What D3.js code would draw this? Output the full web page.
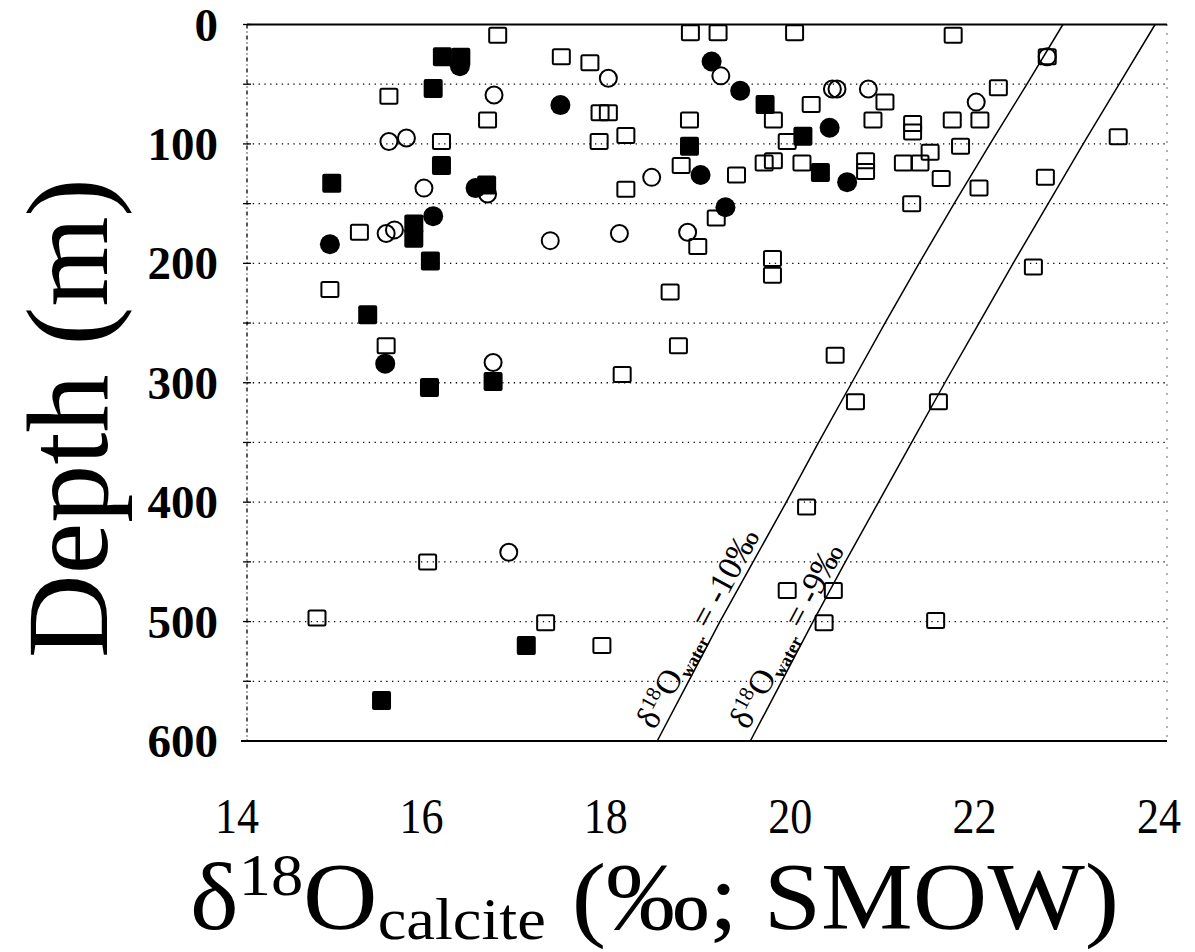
<!DOCTYPE html>
<html>
<head>
<meta charset="utf-8">
<script src="https://cdn.jsdelivr.net/npm/d3@7"></script>
<style>
  body { margin: 0; background: #fff; }
  svg text { font-family: "Liberation Serif", "Times New Roman", "DejaVu Serif", serif; fill: #000; }
</style>
</head>
<body>
<div id="chart"></div>
<script>
// data: [d18O calcite, depth m]
var openSquares = [
    [16.73, 9], [15.55, 60], [16.62, 80], [16.12, 98], [15.23, 174], [14.91, 222],
    [15.52, 269], [15.97, 450], [14.77, 497], [17.25, 501],
    [18.82, 7], [19.12, 7], [19.95, 7], [17.42, 27], [17.73, 32], [17.84, 74], [17.93, 74],
    [20.13, 67], [19.72, 80], [18.81, 80], [19.87, 98], [17.83, 98], [18.12, 93], [18.72, 118],
    [19.32, 126], [18.12, 138], [19.62, 116], [19.72, 114], [20.03, 116], [19.10, 162],
    [18.90, 186], [19.71, 196], [19.71, 210], [18.60, 224],
    [20.80, 80], [20.93, 65], [20.72, 114], [20.72, 123], [21.67, 9], [22.69, 27], [22.16, 53],
    [21.96, 80], [21.66, 80], [21.23, 83], [21.23, 90], [21.42, 107], [21.75, 102], [21.13, 116],
    [21.31, 116], [21.54, 129], [21.95, 137], [22.67, 128], [21.22, 150], [23.46, 94], [22.54, 203],
    [18.69, 269], [18.08, 293], [20.39, 277], [20.61, 316], [21.51, 316], [20.08, 404],
    [19.87, 474], [20.37, 474], [20.27, 501], [17.86, 520], [21.48, 499]
];
var openCircles = [
    [16.69, 59], [15.55, 98], [15.74, 95], [15.93, 137], [16.62, 142], [15.52, 175], [15.61, 172],
    [17.30, 181], [16.68, 283], [16.85, 442], [17.93, 45], [19.15, 43], [20.36, 54], [20.41, 54],
    [20.75, 54], [18.40, 128], [18.05, 175], [18.79, 174], [21.92, 65], [22.69, 27]
];
var filledSquares = [
    [16.13, 27], [16.33, 27.5], [16.03, 53.5], [16.12, 118], [14.93, 133], [16.61, 134.5],
    [15.82, 167], [15.82, 179], [16.00, 198], [15.32, 243], [15.99, 304], [16.68, 299],
    [17.04, 520], [15.47, 566], [19.63, 67], [20.04, 93.5], [18.81, 102], [20.23, 124]
];
var filledCircles = [
    [16.32, 35], [16.49, 137], [16.03, 160.5], [14.91, 184], [15.51, 284], [17.41, 67.5],
    [19.05, 31], [19.36, 55.5], [20.33, 86.5], [18.93, 126], [20.52, 132], [19.20, 153]
];

// d18O water isolines
var lineDepths = [0, 50, 100, 150, 200, 250, 300, 350, 400, 450, 500, 550, 600];
var waterMinus10 = [22.86, 22.47, 22.07, 21.68, 21.30, 20.93, 20.57, 20.21, 19.86, 19.50, 19.14, 18.80, 18.46];
var waterMinus9 = [23.86, 23.47, 23.08, 22.70, 22.32, 21.95, 21.58, 21.22, 20.86, 20.50, 20.15, 19.81, 19.47];

var xTicks = [14, 16, 18, 20, 22, 24];
var yTicks = [0, 100, 200, 300, 400, 500, 600];
var gridDepths = [50, 100, 150, 200, 250, 300, 350, 400, 450, 500, 550];

var width = 1195, height = 952;
var margin = { top: 24.5, right: 28, bottom: 211, left: 246 };

var x = d3.scaleLinear().domain([14, 24]).range([margin.left, 1168]);
var y = d3.scaleLinear().domain([0, 600]).range([margin.top, height - margin.bottom]);

var svg = d3.select("#chart").append("svg")
    .attr("width", width)
    .attr("height", height);

var x0 = 247, x1 = 1167;

// dotted horizontal grid
svg.append("g").selectAll("line")
    .data(gridDepths)
    .enter().append("line")
    .attr("x1", x0).attr("x2", x1)
    .attr("y1", d => y(d)).attr("y2", d => y(d))
    .attr("stroke", "#000")
    .attr("stroke-width", 1.3)
    .attr("stroke-dasharray", "1.3,4.5");

// frame: solid top/bottom, dotted sides
svg.append("line").attr("x1", x0).attr("x2", x1).attr("y1", y(0)).attr("y2", y(0))
    .attr("stroke", "#000").attr("stroke-width", 2.2);
svg.append("line").attr("x1", x0 - 6).attr("x2", x1).attr("y1", y(600)).attr("y2", y(600))
    .attr("stroke", "#000").attr("stroke-width", 2.2);
svg.append("line").attr("x1", x0).attr("x2", x0).attr("y1", y(0)).attr("y2", y(600))
    .attr("stroke", "#000").attr("stroke-width", 1.3).attr("stroke-dasharray", "4,3,1,3");
svg.append("line").attr("x1", x1).attr("x2", x1).attr("y1", y(0)).attr("y2", y(600))
    .attr("stroke", "#000").attr("stroke-width", 1.2).attr("stroke-dasharray", "1,8");

// small ticks on left axis
svg.append("g").selectAll("line")
    .data(gridDepths.concat([0, 600]))
    .enter().append("line")
    .attr("x1", x0 - 4).attr("x2", x0 + 4)
    .attr("y1", d => y(d)).attr("y2", d => y(d))
    .attr("stroke", "#000").attr("stroke-width", 1.3);

// y tick labels
svg.append("g").selectAll("text")
    .data(yTicks)
    .enter().append("text")
    .attr("x", 218)
    .attr("y", d => y(d) + 16)
    .attr("text-anchor", "end")
    .style("font-size", "47px")
    .style("font-weight", "bold")
    .text(d => d);

// x tick labels
svg.append("g").selectAll("text")
    .data(xTicks)
    .enter().append("text")
    .attr("x", d => x(d) - 9)
    .attr("y", 833)
    .attr("text-anchor", "middle")
    .attr("transform", d => "translate(" + (x(d) - 9) + ",0) scale(0.88,1) translate(" + -(x(d) - 9) + ",0)")
    .style("font-size", "50px")
    .text(d => d);

// axis titles
svg.append("text")
    .attr("transform", "translate(107,418) rotate(-90)")
    .attr("text-anchor", "middle")
    .style("font-size", "116px")
    .text("Depth (m)");

var xt = svg.append("text")
    .attr("x", 0)
    .attr("y", 0)
    .attr("transform", "translate(190,929) scale(1.075,1)")
    .style("font-size", "96px");
xt.append("tspan").text("δ");
xt.append("tspan").attr("dy", -34).style("font-size", "60px").text("18");
xt.append("tspan").attr("dy", 34).text("O");
xt.append("tspan").attr("dy", 10).style("font-size", "60px").text("calcite");
xt.append("tspan").attr("dy", -10).text(" (‰; SMOW)");

// isolines
var line = d3.line()
    .x(d => x(d[1]))
    .y(d => y(d[0]));

var isolines = [
    { vals: waterMinus10, label: "-10‰" },
    { vals: waterMinus9, label: "-9‰" }
];

isolines.forEach(function(iso) {
    var pts = lineDepths.map((d, i) => [d, iso.vals[i]]);
    svg.append("path")
        .attr("d", line(pts))
        .attr("fill", "none")
        .attr("stroke", "#000")
        .attr("stroke-width", 1.5);

    // label along lower part of the line
    var n = lineDepths.length;
    var px1 = x(iso.vals[n - 1]), py1 = y(lineDepths[n - 1]);
    var px2 = x(iso.vals[n - 5]), py2 = y(lineDepths[n - 5]);
    var ang = Math.atan2(py2 - py1, px2 - px1);
    var ux = Math.cos(ang), uy = Math.sin(ang);
    var sx = px1 + ux * 8 + uy * 7, sy = py1 + uy * 8 - ux * 7;
    var t = svg.append("text")
        .attr("transform", "translate(" + sx + "," + sy + ") rotate(" + (ang * 180 / Math.PI) + ")")
        .style("font-size", "34px");
    t.append("tspan").text("δ");
    t.append("tspan").attr("dy", -12).style("font-size", "21px").text("18");
    t.append("tspan").attr("dy", 12).text("O");
    t.append("tspan").attr("dy", 6).style("font-size", "18px").style("font-weight", "bold").text("water");
    t.append("tspan").attr("dy", -6).text(" = " + iso.label);
});

// markers
var g = svg.append("g");

g.selectAll(".osq")
    .data(openSquares)
    .enter().append("rect")
    .attr("x", d => x(d[0]) - 8.5)
    .attr("y", d => y(d[1]) - 7.5)
    .attr("width", 17).attr("height", 15)
    .attr("rx", 1.5)
    .attr("fill", "none")
    .attr("stroke", "#000")
    .attr("stroke-width", 2);

g.selectAll(".ocir")
    .data(openCircles)
    .enter().append("circle")
    .attr("cx", d => x(d[0]))
    .attr("cy", d => y(d[1]))
    .attr("r", 8.5)
    .attr("fill", "none")
    .attr("stroke", "#000")
    .attr("stroke-width", 2);

g.selectAll(".fsq")
    .data(filledSquares)
    .enter().append("rect")
    .attr("x", d => x(d[0]) - 9.5)
    .attr("y", d => y(d[1]) - 9.5)
    .attr("width", 19).attr("height", 19)
    .attr("rx", 2)
    .attr("fill", "#000");

g.selectAll(".fcir")
    .data(filledCircles)
    .enter().append("circle")
    .attr("cx", d => x(d[0]))
    .attr("cy", d => y(d[1]))
    .attr("r", 10)
    .attr("fill", "#000");
</script>
</body>
</html>
